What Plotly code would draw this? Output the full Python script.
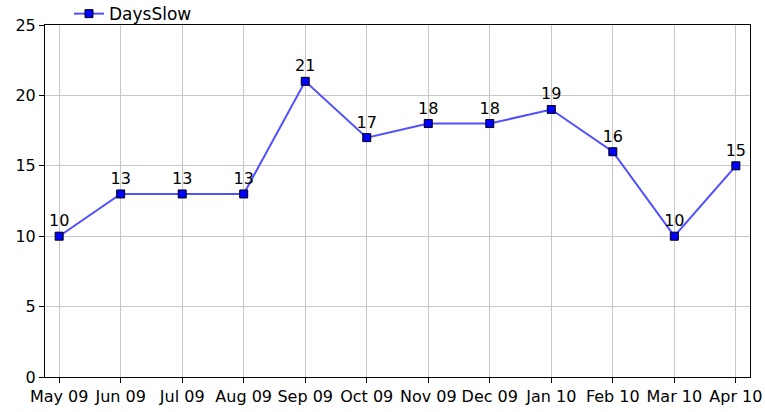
import plotly.graph_objects as go

months = ["May 09", "Jun 09", "Jul 09", "Aug 09", "Sep 09", "Oct 09",
          "Nov 09", "Dec 09", "Jan 10", "Feb 10", "Mar 10", "Apr 10"]
days_slow = [10, 13, 13, 13, 21, 17, 18, 18, 19, 16, 10, 15]
y_ticks = [0, 5, 10, 15, 20, 25]

FONT = "DejaVu Sans"

fig = go.Figure()
fig.add_trace(go.Scatter(
    x=list(range(len(months))), y=days_slow, name="DaysSlow",
    mode="lines+markers+text",
    text=[str(v) for v in days_slow], textposition="top center",
    textfont=dict(family=FONT, size=16, color="black"),
    line=dict(color="#5050ff", width=2),
    marker=dict(symbol="square", size=8, color="#0000ff",
                line=dict(color="black", width=1)),
))

fig.update_layout(
    width=765, height=412,
    margin=dict(l=45, r=15, t=25, b=35, autoexpand=False),
    paper_bgcolor="white", plot_bgcolor="white",
    font=dict(family=FONT, size=16, color="black"),
    showlegend=True,
    legend=dict(orientation="h", x=0.034, xanchor="left", y=1.031, yanchor="middle",
                font=dict(family=FONT, size=17), bgcolor="rgba(0,0,0,0)",
                borderwidth=0, itemwidth=30),
)
fig.update_xaxes(
    tickmode="array", tickvals=list(range(len(months))), ticktext=months,
    range=[-0.23, len(months) - 1 + 0.23],
    showgrid=True, gridcolor="#c8c8c8", gridwidth=1,
    showline=True, linecolor="black", linewidth=1, mirror=True,
    ticks="outside", ticklen=5, tickcolor="black",
    zeroline=False,
)
fig.update_yaxes(
    tickmode="array", tickvals=y_ticks, range=[0, 25],
    showgrid=True, gridcolor="#c8c8c8", gridwidth=1,
    showline=True, linecolor="black", linewidth=1, mirror=True,
    ticks="outside", ticklen=5, tickcolor="black",
    zeroline=False,
)

fig.write_html("out.html", config={"displayModeBar": False},
               post_script="document.body.style.margin='0';document.body.style.overflow='hidden';")
